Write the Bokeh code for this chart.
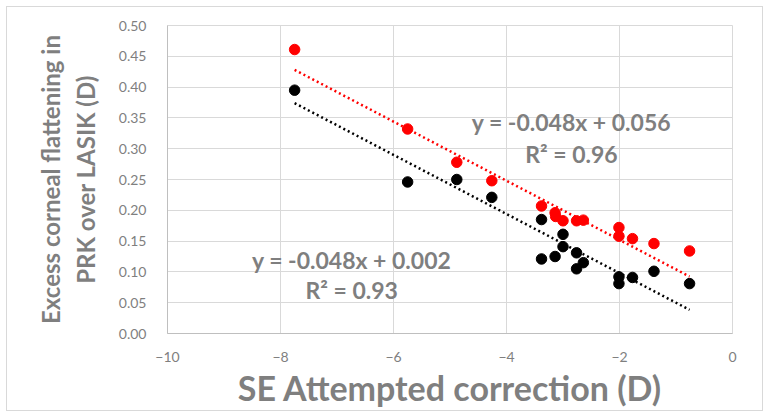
import numpy as np
from bokeh.plotting import figure
from bokeh.models import Range1d, FixedTicker, NumeralTickFormatter, Label
from bokeh.embed import file_html
from bokeh.resources import INLINE

# PRK group (red) and LASIK-referenced group (black)
red_x = [-7.75, -5.75, -4.88, -4.26, -3.38, -3.14, -3.13, -3.00, -2.76, -2.64,
         -2.01, -2.01, -1.77, -1.39, -0.76]
red_y = [0.461, 0.332, 0.278, 0.248, 0.207, 0.196, 0.190, 0.183, 0.183, 0.184,
         0.172, 0.158, 0.154, 0.146, 0.134]

black_x = [-7.75, -5.75, -4.88, -4.26, -3.38, -3.38, -3.14, -3.00, -3.00, -2.76,
           -2.76, -2.64, -2.01, -2.01, -1.77, -1.39, -0.76]
black_y = [0.395, 0.246, 0.250, 0.221, 0.185, 0.121, 0.125, 0.161, 0.141, 0.131,
           0.105, 0.115, 0.092, 0.081, 0.091, 0.101, 0.081]

# trendline coefficients as printed on the chart
red_slope, red_icpt, red_r2 = -0.048, 0.056, 0.96
black_slope, black_icpt, black_r2 = -0.048, 0.002, 0.93

x_ticks = [-10, -8, -6, -4, -2, 0]
y_ticks = [0.0, 0.05, 0.10, 0.15, 0.20, 0.25, 0.30, 0.35, 0.40, 0.45, 0.50]

FONT = "Lato"
GREY = "#7f7f7f"

p = figure(
    width=769, height=417,
    x_range=Range1d(-10, 0), y_range=Range1d(0, 0.5),
    output_backend="svg", toolbar_location=None,
    min_border_left=167, min_border_right=37,
    min_border_top=25, min_border_bottom=84,
    x_axis_label="SE Attempted correction (D)",
    y_axis_label="Excess corneal flattening in\nPRK over LASIK (D)",
)
# light frame round the whole chart, as in the spreadsheet export
p.border_fill_color = None
p.styles = {
    "background-color": "white",
    "box-shadow": "inset 0 0 0 6px white, inset 0 0 0 7px #d9d9d9",
}
p.background_fill_color = "white"
p.outline_line_color = "#d9d9d9"

p.xaxis.ticker = FixedTicker(ticks=x_ticks)
p.yaxis.ticker = FixedTicker(ticks=y_ticks)
p.yaxis.formatter = NumeralTickFormatter(format="0.00")
p.axis.major_tick_line_color = None
p.axis.minor_tick_line_color = None
p.axis.axis_line_color = "#bfbfbf"
p.axis.major_label_text_font = FONT
p.axis.major_label_text_font_size = "14px"
p.axis.major_label_text_color = GREY
p.xaxis.major_label_standoff = 12
p.yaxis.major_label_standoff = 15

p.axis.axis_label_text_font = FONT
p.axis.axis_label_text_font_style = "bold"
p.axis.axis_label_text_color = GREY
p.xaxis.axis_label_text_font_size = "34px"
p.yaxis.axis_label_text_font_size = "24px"
p.xaxis.axis_label_standoff = 2
p.yaxis.axis_label_standoff = 16

p.grid.grid_line_color = "#d9d9d9"
p.grid.grid_line_width = 1
p.xgrid.ticker = FixedTicker(ticks=x_ticks)
p.ygrid.ticker = FixedTicker(ticks=y_ticks)

# trendlines over the span of the data
for xs, slope, icpt, col in [(red_x, red_slope, red_icpt, "#ff0000"),
                             (black_x, black_slope, black_icpt, "#000000")]:
    lx = np.array([min(xs), max(xs)])
    p.line(lx, slope * lx + icpt, line_color=col, line_width=2.5,
           line_dash="2 3")

p.scatter(red_x, red_y, size=10.5, fill_color="#ff0000", line_color="#ff0000")
p.scatter(black_x, black_y, size=10.5, fill_color="#000000", line_color="#000000")

def eq_label(x, y, txt):
    p.add_layout(Label(x=x, y=y, text=txt, text_align="center",
                       text_baseline="middle", text_font=FONT,
                       text_font_size="23px", text_font_style="bold",
                       text_color=GREY))

eq_label(-2.85, 0.343, f"y = {red_slope:.3f}x + {red_icpt:.3f}")
eq_label(-2.85, 0.292, f"R\u00b2 = {red_r2:.2f}")
eq_label(-6.74, 0.120, f"y = {black_slope:.3f}x + {black_icpt:.3f}")
eq_label(-6.74, 0.070, f"R\u00b2 = {black_r2:.2f}")

open("out.html", "w").write(file_html(p, INLINE))
